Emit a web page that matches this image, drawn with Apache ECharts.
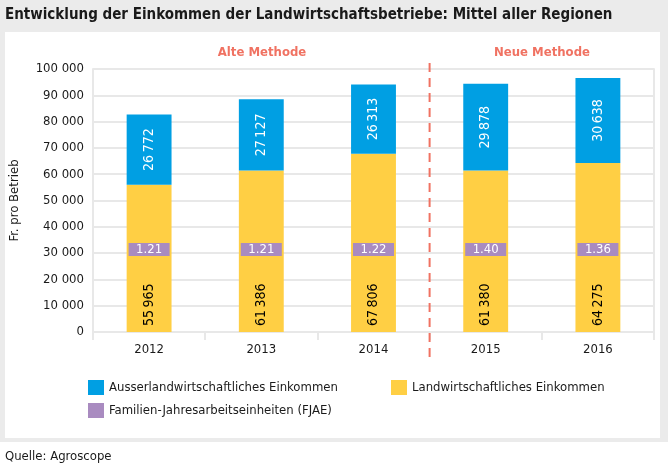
<!DOCTYPE html>
<html>
<head>
<meta charset="utf-8">
<script src="https://cdn.jsdelivr.net/npm/echarts@6/dist/echarts.min.js"></script>
<style>
  html, body { margin: 0; padding: 0; background: #fff; }
  #wrap { position: relative; width: 668px; height: 470px; }
  #frame { position: absolute; left: 0; top: 0; width: 668px; height: 442px; background: #ebebeb; }
  #panel { position: absolute; left: 5px; top: 32px; width: 655px; height: 406px; background: #fff; }
  #chart { position: absolute; left: 0; top: 0; width: 668px; height: 470px; }
</style>
</head>
<body>
<div id="wrap">
  <div id="frame"></div>
  <div id="panel"></div>
  <div id="chart"></div>
</div>
<script>
const years = ['2012', '2013', '2014', '2015', '2016'];
// Landwirtschaftliches Einkommen (bar heights = printed values)
const landwirtschaftlich = [55965, 61386, 67806, 61380, 64275];
// Ausserlandwirtschaftliches Einkommen: bar heights
const ausserHoehe = [26772, 27127, 26313, 33000, 32350];
// Ausserlandwirtschaftliches Einkommen: printed labels
const ausserLabel = [26772, 27127, 26313, 29878, 30638];
const fjae = [1.21, 1.21, 1.22, 1.40, 1.36];
const yTicks = [0, 10000, 20000, 30000, 40000, 50000, 60000, 70000, 80000, 90000, 100000];

const FONT = '"DejaVu Sans Condensed", "Liberation Sans Narrow", sans-serif';
const C_BLUE = '#009fe3';
const C_YELLOW = '#ffcf44';
const C_PURPLE = '#a98bc0';
const C_RED = '#f07262';
const GRID_C = '#e8e8e8';
const FJAE_LEVEL = 31350; // vertical placement of the FJAE badges

function fmt(v) {
  return String(v).replace(/\B(?=(\d{3})+(?!\d))/g, '\u2009');
}
function fmtAxis(v) {
  return String(v).replace(/\B(?=(\d{3})+(?!\d))/g, ' ');
}

const chart = echarts.init(document.getElementById('chart'), null, { renderer: 'canvas' });

const option = {
  backgroundColor: 'transparent',
  animation: false,
  textStyle: { fontFamily: FONT },
  title: [
    { text: 'Entwicklung der Einkommen der Landwirtschaftsbetriebe: Mittel aller Regionen',
      left: 5, top: 8, padding: 0, textStyle: { fontFamily: FONT, fontSize: 15, fontWeight: 'bold', color: '#1a1a1a' } },
    { text: 'Alte Methode', left: 262, top: 46, padding: 0, textAlign: 'center',
      textStyle: { fontFamily: FONT, fontSize: 13, fontWeight: 'bold', color: C_RED } },
    { text: 'Neue Methode', left: 542, top: 46, padding: 0, textAlign: 'center',
      textStyle: { fontFamily: FONT, fontSize: 13, fontWeight: 'bold', color: C_RED } },
    { text: 'Quelle: Agroscope', left: 5, top: 450, padding: 0,
      textStyle: { fontFamily: FONT, fontSize: 13, fontWeight: 'normal', color: '#1a1a1a' } }
  ],
  legend: [
    { data: ['Ausserlandwirtschaftliches Einkommen'], left: 88, top: 380, padding: 0, icon: 'rect',
      itemWidth: 16, itemHeight: 15, itemGap: 8, textStyle: { fontFamily: FONT, fontSize: 13, color: '#1a1a1a' } },
    { data: ['Landwirtschaftliches Einkommen'], left: 391, top: 380, padding: 0, icon: 'rect',
      itemWidth: 16, itemHeight: 15, itemGap: 8, textStyle: { fontFamily: FONT, fontSize: 13, color: '#1a1a1a' } },
    { data: ['Familien-Jahresarbeitseinheiten (FJAE)'], left: 88, top: 403, padding: 0, icon: 'rect',
      itemWidth: 16, itemHeight: 15, itemGap: 8, textStyle: { fontFamily: FONT, fontSize: 13, color: '#1a1a1a' } }
  ],
  grid: { left: 92, right: 14, top: 69, bottom: 138, containLabel: false },
  xAxis: {
    type: 'category',
    data: years,
    axisLine: { show: true, lineStyle: { color: GRID_C, width: 2 } },
    axisTick: { show: true, length: 8, lineStyle: { color: GRID_C, width: 2 } },
    axisLabel: { color: '#1a1a1a', fontSize: 13, margin: 11, fontFamily: FONT }
  },
  yAxis: [
    {
      type: 'value', min: 0, max: 100000, interval: 10000,
      name: 'Fr. pro Betrieb', nameLocation: 'middle', nameGap: 72,
      nameTextStyle: { color: '#1a1a1a', fontSize: 13, fontFamily: FONT },
      axisLine: { show: true, lineStyle: { color: GRID_C, width: 2 } },
      axisTick: { show: false },
      axisLabel: { color: '#1a1a1a', fontSize: 13, margin: 9, fontFamily: FONT,
        formatter: v => fmtAxis(v) },
      splitLine: { show: true, lineStyle: { color: GRID_C, width: 2 } }
    },
    {
      type: 'value', min: 0, max: 100000, interval: 10000, position: 'right',
      axisLine: { show: true, lineStyle: { color: GRID_C, width: 2 } },
      axisTick: { show: false }, axisLabel: { show: false }, splitLine: { show: false }
    }
  ],
  series: [
    {
      name: 'Landwirtschaftliches Einkommen', type: 'bar', stack: 'inc',
      data: landwirtschaftlich, barWidth: '40%',
      itemStyle: { color: C_YELLOW },
      label: { show: true, position: 'insideBottom', rotate: 90, align: 'left', verticalAlign: 'middle',
        distance: 6, color: '#000', fontSize: 14, fontFamily: FONT, formatter: p => fmt(p.value) }
    },
    {
      name: 'Ausserlandwirtschaftliches Einkommen', type: 'bar', stack: 'inc',
      data: ausserHoehe, barWidth: '40%',
      itemStyle: { color: C_BLUE },
      label: { show: true, position: 'inside', rotate: 90, align: 'center', verticalAlign: 'middle',
        color: '#fff', fontSize: 14, fontFamily: FONT, formatter: p => fmt(ausserLabel[p.dataIndex]) }
    },
    {
      name: 'Familien-Jahresarbeitseinheiten (FJAE)', type: 'scatter',
      data: fjae.map((v, i) => [i, FJAE_LEVEL]),
      symbol: 'rect', symbolSize: [41, 13],
      itemStyle: { color: C_PURPLE, opacity: 1 },
      label: { show: true, position: 'inside', color: '#fff', fontSize: 13, fontFamily: FONT,
        formatter: p => fjae[p.dataIndex].toFixed(2) },
      z: 5
    }
  ]
};

chart.setOption(option);

const pA = chart.convertToPixel({ xAxisIndex: 0, yAxisIndex: 0 }, [2, 0]);
const pB = chart.convertToPixel({ xAxisIndex: 0, yAxisIndex: 0 }, [3, 100000]);
const xMid = (pA[0] + pB[0]) / 2;
chart.setOption({
  graphic: [{
    type: 'line', z: 10,
    shape: { x1: xMid, y1: pB[1] - 6, x2: xMid, y2: pA[1] + 30 },
    style: { stroke: C_RED, lineWidth: 2, lineDash: [9, 6] }
  }]
});
</script>
</body>
</html>
